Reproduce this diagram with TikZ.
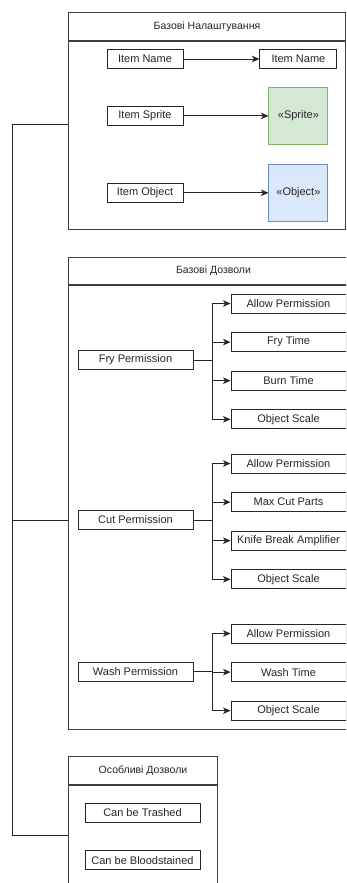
\documentclass[tikz,border=0pt]{standalone}
\usepackage{fontspec}
\setmainfont{Liberation Sans}
\usepackage{xcolor}
\usetikzlibrary{positioning,arrows.meta}

\definecolor{spritefill}{HTML}{D5E8D4}
\definecolor{spritedraw}{HTML}{82B366}
\definecolor{objfill}{HTML}{DAE8FC}
\definecolor{objdraw}{HTML}{6C8EBF}

\begin{document}
\begin{tikzpicture}[
    x=1pt, y=-1pt,
    node distance=18.7pt and 38pt,
    >={Stealth[length=7.5pt,width=6.5pt,inset=2pt]},
    head/.style={rectangle, draw=black!75, fill=white, minimum height=28pt, inner sep=0pt, anchor=north west, text=black!85, font=\fontsize{10.5}{12}\selectfont, line width=1pt},
    panel/.style={rectangle, draw=black!75, fill=white, inner sep=0pt, anchor=north west, line width=1pt},
    field/.style={rectangle, draw=black!85, fill=white, minimum width=76pt, minimum height=19pt, inner sep=0pt, text=black!85, font=\fontsize{11}{13}\selectfont, line width=0.9pt},
    perm/.style={field, minimum width=115pt},
    sprite/.style={field, draw=spritedraw, fill=spritefill, minimum width=59pt, minimum height=57pt},
    object/.style={field, draw=objdraw, fill=objfill, minimum width=59pt, minimum height=57pt},
    arrow/.style={->, line width=0.9pt, draw=black!85},
    link/.style={line width=0.9pt, draw=black!85}
]
\useasboundingbox (0,0) rectangle (346,883);
\clip (0,0) rectangle (346,883);

% Panel 1: base settings
\node[head, minimum width=277pt] (sethead) at (68,12) {Базові Налаштування};
\node[panel, minimum width=277pt, minimum height=188pt] (setbody) at (sethead.south west) {};

\node[field] (itemname) at (145,59) {Item Name};
\node[field, below=37pt of itemname] (itemsprite) {Item Sprite};
\node[field, below=57pt of itemsprite] (itemobject) {Item Object};
\node[field, minimum width=77pt, right=76pt of itemname] (namefield) {Item Name};
\node[sprite, right=85pt of itemsprite] (spritefield) {«Sprite»};
\node[object, right=85pt of itemobject] (objectfield) {«Object»};

% Panel 2: base permissions
\node[head, minimum width=290pt, minimum height=27pt] (permhead) at (68,257) {Базові Дозволи};
\node[panel, minimum width=290pt, minimum height=444pt] (permbody) at (permhead.south west) {};

\node[perm] (fry) at (135.5,360) {Fry Permission};
\node[perm] (fryallow) at (288.5,303.5) {Allow Permission};
\node[perm, below=of fryallow] (frytime) {Fry Time};
\node[perm, below=of frytime] (fryburn) {Burn Time};
\node[perm, below=of fryburn] (fryscale) {Object Scale};

\node[perm] (cut) at (135.5,520) {Cut Permission};
\node[perm] (cutallow) at (288.5,463.5) {Allow Permission};
\node[perm, below=of cutallow] (cutparts) {Max Cut Parts};
\node[perm, below=of cutparts] (cutknife) {Knife Break Amplifier};
\node[perm, below=of cutknife] (cutscale) {Object Scale};

\node[perm] (wash) at (135.5,671.5) {Wash Permission};
\node[perm] (washallow) at (288.5,633.5) {Allow Permission};
\node[perm, below=of washallow] (washtime) {Wash Time};
\node[perm, below=of washtime] (washscale) {Object Scale};

% Panel 3: special permissions
\node[head, minimum width=149pt] (spechead) at (68,756) {Особливі Дозволи};
\node[panel, minimum width=149pt, minimum height=130pt] (specbody) at (spechead.south west) {};

\node[perm] (trash) at (142.5,812.5) {Can be Trashed};
\node[perm, below=28pt of trash] (blood) {Can be Bloodstained};

% Arrows panel 1
\draw[arrow] (itemname) -- (namefield);
\draw[arrow] (itemsprite) -- (spritefield);
\draw[arrow] (itemobject) -- (objectfield);

% Arrows panel 2
\foreach \c in {fryallow, frytime, fryburn, fryscale}
    \draw[arrow] (fry.east) -- ++(19,0) |- (\c.west);
\foreach \c in {cutallow, cutparts, cutknife, cutscale}
    \draw[arrow] (cut.east) -- ++(19,0) |- (\c.west);
\foreach \c in {washallow, washtime, washscale}
    \draw[arrow] (wash.east) -- ++(19,0) |- (\c.west);

% Trunk linking the panels
\coordinate (trunktop) at (12,124);
\coordinate (trunkend) at (12,835);
\draw[link] (setbody.west |- trunktop) -- (trunktop) -- (trunkend) -- (specbody.west |- trunkend);
\draw[link] (permbody.west |- cut) -- (trunktop |- cut);

\end{tikzpicture}
\end{document}
